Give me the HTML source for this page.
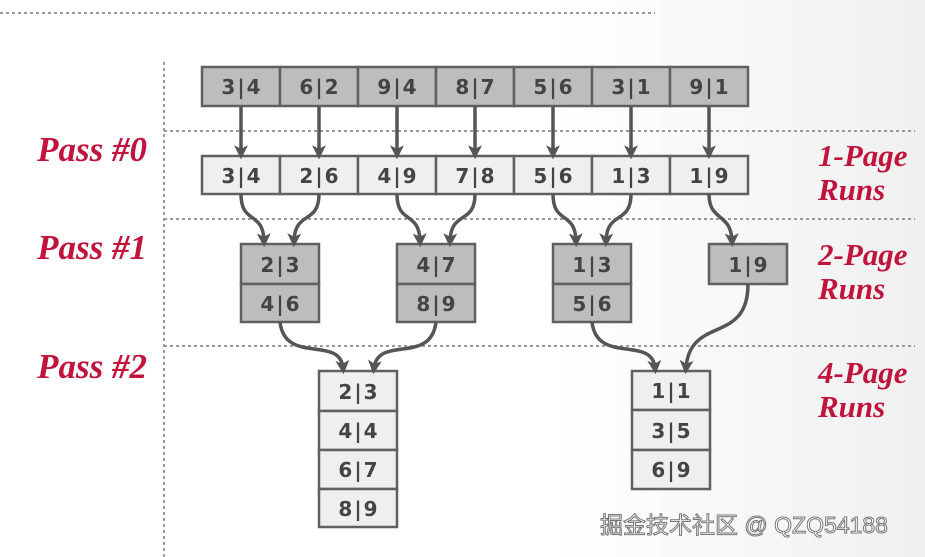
<!DOCTYPE html>
<html><head><meta charset="utf-8"><style>
body{margin:0;width:925px;height:557px;overflow:hidden;background:linear-gradient(90deg,#fff 0%,#fff 60%,#f0f0f0 100%);}
</style></head><body>
<svg width="925" height="557" xmlns="http://www.w3.org/2000/svg" style="position:absolute;left:0;top:0">
<defs><marker id="a" markerWidth="4" markerHeight="4" refX="2.2" refY="2" orient="auto" markerUnits="strokeWidth"><path d="M0,0 L4,2 L0,4 L1,2z" fill="#555"/></marker></defs>
<g stroke="#999" stroke-width="2" stroke-dasharray="3,3" fill="none">
<line x1="0" y1="13" x2="655" y2="13"/>
<line x1="164" y1="62" x2="164" y2="557"/>
<line x1="164" y1="131" x2="915" y2="131"/>
<line x1="164" y1="219" x2="915" y2="219"/>
<line x1="164" y1="346" x2="915" y2="346"/>
</g>
<g font-family="DejaVu Sans, sans-serif" font-weight="bold" font-size="20" fill="#444" text-anchor="middle" stroke="#606060" stroke-width="2.5">
<g fill="#bdbdbd">
<rect x="202" y="67" width="78" height="39"/><rect x="280" y="67" width="78" height="39"/><rect x="358" y="67" width="78" height="39"/><rect x="436" y="67" width="78" height="39"/><rect x="514" y="67" width="78" height="39"/><rect x="592" y="67" width="78" height="39"/><rect x="670" y="67" width="78" height="39"/>
<rect x="241" y="244" width="78" height="40"/><rect x="241" y="284" width="78" height="38"/>
<rect x="397" y="244" width="78" height="40"/><rect x="397" y="284" width="78" height="38"/>
<rect x="553" y="244" width="78" height="40"/><rect x="553" y="284" width="78" height="38"/>
<rect x="709" y="244" width="78" height="40"/>
</g>
<g fill="#efefef">
<rect x="202" y="156" width="78" height="38"/><rect x="280" y="156" width="78" height="38"/><rect x="358" y="156" width="78" height="38"/><rect x="436" y="156" width="78" height="38"/><rect x="514" y="156" width="78" height="38"/><rect x="592" y="156" width="78" height="38"/><rect x="670" y="156" width="78" height="38"/>
<rect x="319" y="371" width="78" height="40"/><rect x="319" y="411" width="78" height="39"/><rect x="319" y="450" width="78" height="39"/><rect x="319" y="489" width="78" height="38"/>
<rect x="632" y="371" width="78" height="39"/><rect x="632" y="410" width="78" height="40"/><rect x="632" y="450" width="78" height="39"/>
</g>
<g stroke="none" letter-spacing="2">
<text x="242" y="94">3|4</text><text x="320" y="94">6|2</text><text x="398" y="94">9|4</text><text x="476" y="94">8|7</text><text x="554" y="94">5|6</text><text x="632" y="94">3|1</text><text x="710" y="94">9|1</text>
<text x="242" y="183">3|4</text><text x="320" y="183">2|6</text><text x="398" y="183">4|9</text><text x="476" y="183">7|8</text><text x="554" y="183">5|6</text><text x="632" y="183">1|3</text><text x="710" y="183">1|9</text>
<text x="281" y="272">2|3</text><text x="281" y="311">4|6</text>
<text x="437" y="272">4|7</text><text x="437" y="311">8|9</text>
<text x="593" y="272">1|3</text><text x="593" y="311">5|6</text>
<text x="749" y="272">1|9</text>
<text x="359" y="399">2|3</text><text x="359" y="438">4|4</text><text x="359" y="477">6|7</text><text x="359" y="516">8|9</text>
<text x="672" y="398">1|1</text><text x="672" y="438">3|5</text><text x="672" y="477">6|9</text>
</g>
</g>
<g stroke="#555" stroke-width="3.5" fill="none" marker-end="url(#a)">
<line x1="241" y1="106" x2="241" y2="153"/><line x1="319" y1="106" x2="319" y2="153"/><line x1="397" y1="106" x2="397" y2="153"/><line x1="475" y1="106" x2="475" y2="153"/><line x1="553" y1="106" x2="553" y2="153"/><line x1="631" y1="106" x2="631" y2="153"/><line x1="709" y1="106" x2="709" y2="153"/>
<path d="M241,194 C241,225 263,210 264,241"/><path d="M319,194 C319,225 295,210 294,241"/>
<path d="M397,194 C397,225 419,210 420,241"/><path d="M475,194 C475,225 451,210 450,241"/>
<path d="M553,194 C553,225 575,210 576,241"/><path d="M631,194 C631,225 607,210 606,241"/>
<path d="M709,194 C709,222 731,212 732,241"/>
<path d="M280,322 C285,365 340,335 343,368"/><path d="M436,322 C431,365 378,335 374,368"/>
<path d="M592,322 C597,365 652,335 655,368"/><path d="M748,284 C748,345 690,315 686,368"/>
</g>
<g font-family="Liberation Serif, serif" font-style="italic" font-weight="bold" fill="#c0143c">
<g font-size="35" text-anchor="end"><text x="147" y="161">Pass #0</text><text x="147" y="259">Pass #1</text><text x="147" y="378">Pass #2</text></g>
<g font-size="31"><text x="818" y="166">1-Page</text><text x="818" y="200">Runs</text><text x="818" y="265">2-Page</text><text x="818" y="299">Runs</text><text x="818" y="383">4-Page</text><text x="818" y="417">Runs</text></g>
</g>
<text x="600" y="533" font-family="Liberation Sans, Noto Sans CJK SC, sans-serif" font-size="23" fill="#fff" stroke="#777" stroke-width="1">掘金技术社区 @ QZQ54188</text>
</svg>
</body></html>
